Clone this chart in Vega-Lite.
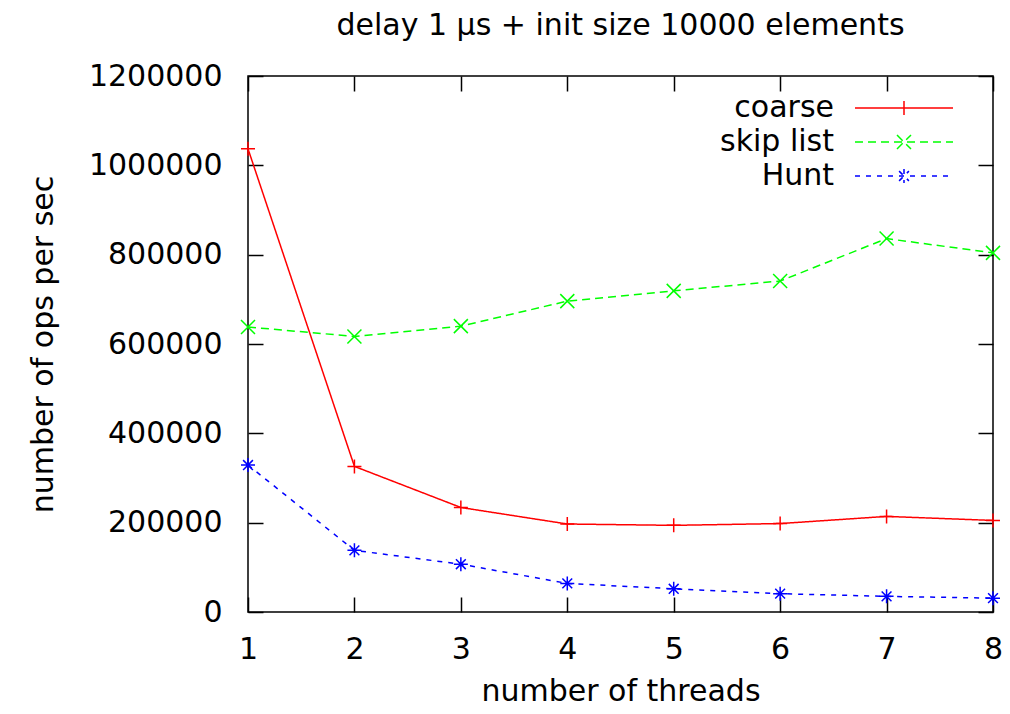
{
  "$schema": "https://vega.github.io/schema/vega-lite/v6.json",
  "width": 745,
  "height": 536,
  "autosize": {"type": "none"},
  "padding": {"left": 248, "top": 76, "right": 17, "bottom": 102},
  "background": "white",
  "config": {
    "font": "DejaVu Sans",
    "view": {"stroke": "black", "strokeWidth": 1.5},
    "axis": {
      "grid": false,
      "domain": false,
      "tickColor": "black",
      "tickWidth": 1.5,
      "tickSize": -15,
      "labelFont": "DejaVu Sans",
      "labelFontSize": 30,
      "labelColor": "black",
      "titleFont": "DejaVu Sans",
      "titleFontSize": 30,
      "titleFontWeight": "normal",
      "titleColor": "black"
    }
  },
  "title": {
    "text": "delay 1 µs + init size 10000 elements",
    "font": "DejaVu Sans",
    "fontSize": 30,
    "fontWeight": "normal",
    "color": "black",
    "anchor": "middle",
    "baseline": "bottom",
    "offset": -10
  },
  "data": {
    "values": [
      {"threads": 1, "ops": 1037000, "series": "coarse"},
      {"threads": 2, "ops": 326000, "series": "coarse"},
      {"threads": 3, "ops": 234000, "series": "coarse"},
      {"threads": 4, "ops": 197000, "series": "coarse"},
      {"threads": 5, "ops": 194000, "series": "coarse"},
      {"threads": 6, "ops": 198000, "series": "coarse"},
      {"threads": 7, "ops": 214000, "series": "coarse"},
      {"threads": 8, "ops": 205000, "series": "coarse"},
      {"threads": 1, "ops": 638000, "series": "skip list"},
      {"threads": 2, "ops": 617000, "series": "skip list"},
      {"threads": 3, "ops": 640000, "series": "skip list"},
      {"threads": 4, "ops": 696000, "series": "skip list"},
      {"threads": 5, "ops": 719000, "series": "skip list"},
      {"threads": 6, "ops": 741000, "series": "skip list"},
      {"threads": 7, "ops": 836000, "series": "skip list"},
      {"threads": 8, "ops": 804000, "series": "skip list"},
      {"threads": 1, "ops": 329000, "series": "Hunt"},
      {"threads": 2, "ops": 138000, "series": "Hunt"},
      {"threads": 3, "ops": 107000, "series": "Hunt"},
      {"threads": 4, "ops": 64000, "series": "Hunt"},
      {"threads": 5, "ops": 52000, "series": "Hunt"},
      {"threads": 6, "ops": 41000, "series": "Hunt"},
      {"threads": 7, "ops": 35000, "series": "Hunt"},
      {"threads": 8, "ops": 31000, "series": "Hunt"}
    ]
  },
  "layer": [
    {
      "mark": {"type": "line", "strokeWidth": 1.5, "clip": false},
      "encoding": {
        "x": {
          "field": "threads", "type": "quantitative",
          "scale": {"domain": [1, 8], "nice": false, "zero": false},
          "axis": {"orient": "bottom", "values": [1, 2, 3, 4, 5, 6, 7, 8], "format": "d", "labelPadding": 37, "title": "number of threads", "titlePadding": 12, "labelFlush": false}
        },
        "y": {
          "field": "ops", "type": "quantitative",
          "scale": {"domain": [0, 1200000], "nice": false},
          "axis": {"orient": "left", "values": [0, 200000, 400000, 600000, 800000, 1000000, 1200000], "format": "d", "labelPadding": 41, "title": "number of ops per sec", "titlePadding": 30, "labelFlush": false}
        },
        "color": {
          "field": "series", "type": "nominal",
          "scale": {"domain": ["coarse", "skip list", "Hunt"], "range": ["#ff0000", "#00ff00", "#0000ff"]},
          "legend": {
            "title": null,
            "orient": "none",
            "legendX": 641,
            "legendY": 17,
            "padding": 0,
            "labelFont": "DejaVu Sans",
            "labelFontSize": 30,
            "labelColor": "black",
            "labelAlign": "right",
            "labelOffset": -85,
            "symbolSize": 196,
            "symbolStrokeWidth": 1.5,
            "rowPadding": 4,
            "encode": {
              "symbols": {
                "update": {
                  "shape": {"signal": "datum.value === 'coarse' ? 'M-7,0L7,0M0,-1L0,1' : datum.value === 'skip list' ? 'M-7,0L7,0M-1,-1L1,1M-1,1L1,-1' : 'M-7,0L6.3,0M0,-1L0,1M-0.7,-0.7L0.7,0.7M-0.7,0.7L0.7,-0.7'"}
                }
              }
            }
          }
        },
        "strokeDash": {
          "field": "series", "type": "nominal",
          "scale": {"domain": ["coarse", "skip list", "Hunt"], "range": [[1, 0], [8, 5], [5, 6]]},
          "legend": {
            "title": null,
            "orient": "none",
            "legendX": 641,
            "legendY": 17,
            "padding": 0,
            "labelFont": "DejaVu Sans",
            "labelFontSize": 30,
            "labelColor": "black",
            "labelAlign": "right",
            "labelOffset": -85,
            "symbolSize": 196,
            "symbolStrokeWidth": 1.5,
            "rowPadding": 4,
            "encode": {
              "symbols": {
                "update": {
                  "shape": {"signal": "datum.value === 'coarse' ? 'M-7,0L7,0M0,-1L0,1' : datum.value === 'skip list' ? 'M-7,0L7,0M-1,-1L1,1M-1,1L1,-1' : 'M-7,0L6.3,0M0,-1L0,1M-0.7,-0.7L0.7,0.7M-0.7,0.7L0.7,-0.7'"}
                }
              }
            }
          }
        }
      }
    },
    {
      "transform": [{"filter": "datum.series === 'coarse'"}],
      "mark": {"type": "point", "filled": false, "size": 196, "strokeWidth": 1.5, "opacity": 1, "clip": false, "color": "#ff0000", "shape": "M-1,0L1,0M0,-1L0,1"},
      "encoding": {
        "x": {"field": "threads", "type": "quantitative", "axis": {"orient": "top", "values": [1, 2, 3, 4, 5, 6, 7, 8], "labels": false, "title": null}},
        "y": {"field": "ops", "type": "quantitative", "axis": {"orient": "right", "values": [0, 200000, 400000, 600000, 800000, 1000000, 1200000], "labels": false, "title": null}}
      }
    },
    {
      "transform": [{"filter": "datum.series === 'skip list'"}],
      "mark": {"type": "point", "filled": false, "size": 196, "strokeWidth": 1.5, "opacity": 1, "clip": false, "color": "#00ff00", "shape": "M-1,-1L1,1M-1,1L1,-1"},
      "encoding": {
        "x": {"field": "threads", "type": "quantitative", "axis": null},
        "y": {"field": "ops", "type": "quantitative", "axis": null}
      }
    },
    {
      "transform": [{"filter": "datum.series === 'Hunt'"}],
      "mark": {"type": "point", "filled": false, "size": 196, "strokeWidth": 1.5, "opacity": 1, "clip": false, "color": "#0000ff", "shape": "M-1,0L1,0M0,-1L0,1M-0.7,-0.7L0.7,0.7M-0.7,0.7L0.7,-0.7"},
      "encoding": {
        "x": {"field": "threads", "type": "quantitative", "axis": null},
        "y": {"field": "ops", "type": "quantitative", "axis": null}
      }
    }
  ],
  "resolve": {"axis": {"x": "independent", "y": "independent"}}
}
